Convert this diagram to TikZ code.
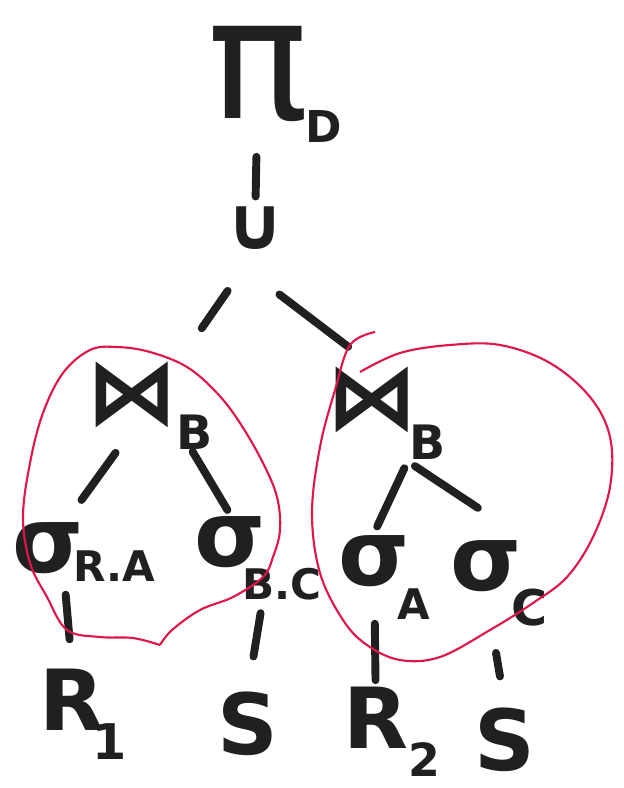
\documentclass[tikz,border=0pt]{standalone}
\usepackage{fontspec}
\setmainfont{DejaVu Sans}
\usepackage{tikz}
\usetikzlibrary{positioning,calc}
\definecolor{marker}{RGB}{32,32,34}
\definecolor{inkred}{RGB}{224,22,72}
\tikzset{
  opsym/.style={inner sep=1pt,text=marker,font=\fontsize{52}{56}\selectfont\bfseries},
  leafsym/.style={inner sep=1pt,text=marker,font=\fontsize{48}{52}\selectfont\bfseries},
  subsym/.style={inner sep=1pt,text=marker,font=\fontsize{24}{26}\selectfont\bfseries},
  branch/.style={line width=4.5pt,line cap=round,draw=marker},
  ring/.style={line width=1.2pt,draw=inkred,tension=0.6}
}

\begin{document}
\begin{tikzpicture}[x=0.02cm,y=-0.02cm]
  \useasboundingbox (0,0) rectangle (623,788);
  \node[opsym,font=\fontsize{96}{100}\selectfont] (pi) at (258,74) {π};
  \node[subsym,font=\fontsize{25}{28}\selectfont\bfseries] (piD) at (324,126) {D};
  \node[opsym,font=\fontsize{42}{46}\selectfont\bfseries] (union) at (255,228) {∪};
  \node[opsym] (jl) at (132,395) {⋈};
  \node[subsym,font=\fontsize{27}{30}\selectfont\bfseries] (jlB) at (195,432) {B};
  \node[opsym] (jr) at (372,400) {⋈};
  \node[subsym,font=\fontsize{27}{30}\selectfont\bfseries] (jrB) at (428,442) {B};
  \node[opsym] (sra) at (48,548) {σ};
  \node[subsym] (sraS) at (114,566) {R.A};
  \node[opsym] (sbc) at (230,542) {σ};
  \node[subsym] (sbcS) at (282,584) {B.C};
  \node[opsym] (sa) at (374,561) {σ};
  \node[subsym] (saS) at (414,604) {A};
  \node[opsym] (sc) at (486,566) {σ};
  \node[subsym,font=\fontsize{28}{30}\selectfont\bfseries] (scS) at (530,608) {C};
  \node[leafsym] (r1) at (72,700) {R};
  \node[subsym,font=\fontsize{28}{30}\selectfont\bfseries] (r1S) at (110,742) {1};
  \node[leafsym] (s1) at (248,724) {S};
  \node[leafsym] (r2) at (376,718) {R};
  \node[subsym,font=\fontsize{26}{30}\selectfont\bfseries] (r2S) at (424,760) {2};
  \node[leafsym] (s2) at (505,740) {S};
  \draw[branch,shorten <=0.66cm,shorten >=0.16cm] (pi) -- (union);
  \draw[branch,shorten <=0.96cm,shorten >=0.77cm] (union.south) -- (jl.north east);
  \draw[branch,shorten <=1.42cm,shorten >=0.6cm] (union.south west) -- (jr.north);
  \draw[branch,shorten <=0.56cm,shorten >=0.5cm] (jl.south) -- ($(sra.north)!0.5!(sra.north east)$);
  \draw[branch,shorten <=0.5cm,shorten >=0.1cm] (jl.south east) -- (sbc.north);
  \draw[branch,shorten <=0.73cm,shorten >=0.15cm] (jr.south east) -- (sa.north);
  \draw[branch,shorten <=0.17cm,shorten >=1.1cm] (jrB.south west) -- (sc.north east);
  \draw[branch,shorten <=0.38cm,shorten >=0.56cm] (sra.-60) -- (r1.north);
  \draw[branch,shorten <=0.88cm,shorten >=0.68cm] (sbc.south east) -- (s1.north);
  \draw[branch,shorten <=0.7cm,shorten >=0.1cm] (sa) -- (r2);
  \draw[branch,shorten <=1.2cm,shorten >=0.6cm] (sc.south) -- (s2.north);
  \draw[ring] plot[smooth] coordinates {(160,645) (172,630) (200,610) (233,597) (263,577) (273,557) (280,530) (277,497) (263,463) (240,423) (217,393) (187,367) (150,352) (117,347) (90,350) (63,373) (43,413) (30,463) (23,517) (30,563) (47,597) (67,630) (100,637) (133,638) (160,645)};
  \draw[ring] plot[smooth] coordinates {(375,332) (350,345) (335,390) (320,447) (312,513) (320,573) (343,620) (367,645) (400,660) (440,657) (490,630) (533,603) (567,577) (593,537) (610,487) (610,437) (590,397) (550,363) (500,345) (450,345) (400,353) (360,372)};
\end{tikzpicture}
\end{document}
